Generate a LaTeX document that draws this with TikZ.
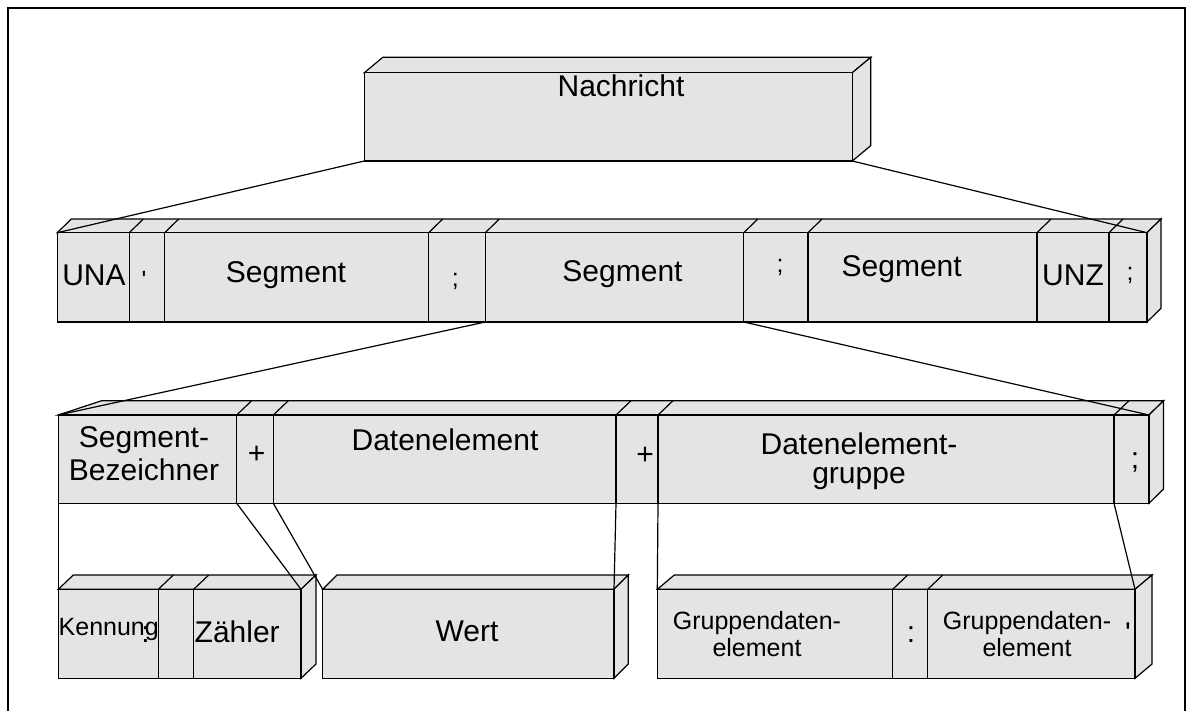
\documentclass[tikz,border=0pt]{standalone}
\usepackage{fontspec}
\setmainfont{Liberation Sans}
\usetikzlibrary{fit}
\definecolor{boxfill}{RGB}{228,228,228}
\tikzset{
  cell/.style={draw=black, fill=boxfill, inner sep=0pt, outer sep=0pt, line width=0.6pt},
  face/.style={draw=black, fill=boxfill, line width=0.6pt},
  edge/.style={draw=black, line width=0.6pt},
  conn/.style={draw=black, line width=0.6pt},
  lbl/.style={inner sep=0pt, anchor=base, font=\fontsize{15}{16.5}\selectfont},
  lblsmall/.style={inner sep=0pt, anchor=base, font=\fontsize{12.5}{13.5}\selectfont},
}
% top and right faces of a block: x1,y1 (front top-left), x2,y2 (front bottom-right), depth dx,dy
\newcommand\solidfaces[6]{%
  \filldraw[face] (#1,#2) -- (#1+#5,#2-#6) -- (#3+#5,#2-#6) -- (#3,#2) -- cycle;
  \filldraw[face] (#3,#2) -- (#3+#5,#2-#6) -- (#3+#5,#4-#6) -- (#3,#4) -- cycle;}
\begin{document}
\begin{tikzpicture}[x=0.5pt,y=-0.5pt]
\useasboundingbox (0,0) rectangle (1192,711);
\draw[edge] (8,711) -- (8,8) -- (1185,8) -- (1185,711);

% ---- Nachricht
\solidfaces{364.3}{72.7}{852.3}{161}{18.5}{15.4}
\node[cell, fit={(364.3,72.7) (852.3,161)}] (msg) {};
\node[lbl] (tmsg) at (621,96.7) {Nachricht};

% ---- message level
\solidfaces{57.3}{232.7}{1147}{322}{14}{13.7}
\foreach \x in {129.3,164.7,428.7,485.3,743.8,808,1037,1109}
  \draw[edge] (\x,232.7) -- ++(14,-13.7);
\node[cell, fit={(57.3,232.7) (129.3,322)}] (una) {};
\node[cell, fit={(129.3,232.7) (164.7,322)}] (apo) {};
\node[cell, fit={(164.7,232.7) (428.7,322)}] (segA) {};
\node[cell, fit={(428.7,232.7) (485.3,322)}] (semA) {};
\node[cell, fit={(485.3,232.7) (743.8,322)}] (segB) {};
\node[cell, fit={(743.8,232.7) (808,322)}] (semB) {};
\node[cell, fit={(808,232.7) (1037,322)}] (segC) {};
\node[cell, fit={(1037,232.7) (1109,322)}] (unz) {};
\node[cell, fit={(1109,232.7) (1147,322)}] (semC) {};
\node[lbl] (tuna) at (94,285) {UNA};
\node[lblsmall] (tapo) at (144,288) {\textquotesingle};
\node[lbl] (tsegA) at (286,282.7) {Segment};
\node[lblsmall] (tsemA) at (455.3,286.7) {;};
\node[lbl] (tsegB) at (622.5,281.7) {Segment};
\node[lblsmall] (tsemB) at (780,272.7) {;};
\node[lbl] (tsegC) at (901.7,276) {Segment};
\node[lbl] (tunz) at (1073,285) {UNZ};
\node[lblsmall] (tsemC) at (1130,280.7) {;};

% ---- segment level
\filldraw[face] (58.3,415) -- (101.7,400.7) -- (1163.5,400.7) -- (1149,415) -- cycle;
\filldraw[face] (1149,415) -- (1163.5,400.7) -- (1163.5,489) -- (1149,503.3) -- cycle;
\foreach \x in {236.7,273.3,616,658,1114}
  \draw[edge] (\x,415) -- ++(15,-14.3);
\node[cell, fit={(58.3,415) (236.7,503.3)}] (sbez) {};
\node[cell, fit={(236.7,415) (273.3,503.3)}] (plA) {};
\node[cell, fit={(273.3,415) (616,503.3)}] (del) {};
\node[cell, fit={(616,415) (658,503.3)}] (plB) {};
\node[cell, fit={(658,415) (1114,503.3)}] (deg) {};
\node[cell, fit={(1114,415) (1149,503.3)}] (semD) {};
\node[lbl, anchor=north, align=center, font=\fontsize{15}{16.65}\selectfont] (tsbez) at (144,426.3) {Segment-\\Bezeichner};
\node[lbl] (tplA) at (256.7,463) {+};
\node[lbl] (tdel) at (445,450.7) {Datenelement};
\node[lbl] (tplB) at (645,464) {+};
\node[lbl, anchor=north, align=center, font=\fontsize{15}{14.5}\selectfont] (tdeg) at (859,432.3) {Datenelement-\\gruppe};
\node[lbl] (tsemD) at (1135,468) {;};

% ---- element level
\solidfaces{58.3}{589.3}{301}{678.3}{15}{14.3}
\foreach \x in {158.3,193.7}
  \draw[edge] (\x,589.3) -- ++(15,-14.3);
\node[cell, fit={(58.3,589.3) (158.3,678.3)}] (kenn) {};
\node[cell, fit={(158.3,589.3) (193.7,678.3)}] (colA) {};
\node[cell, fit={(193.7,589.3) (301,678.3)}] (zahl) {};
\node[lblsmall, anchor=base west] (tkenn) at (58.3,635) {Kennung};
\node[lbl] (tcolA) at (145.5,642) {:};
\node[lbl, anchor=base west] (tzahl) at (194.3,642.7) {Zähler};

\solidfaces{322.7}{589.3}{614}{678.3}{14.3}{14.3}
\node[cell, fit={(322.7,589.3) (614,678.3)}] (wert) {};
\node[lbl] (twert) at (467,641.7) {Wert};

\solidfaces{657.3}{589.3}{1135}{678.3}{17}{14.3}
\foreach \x in {892.7,927.7}
  \draw[edge] (\x,589.3) -- ++(15,-14.3);
\node[cell, fit={(657.3,589.3) (892.7,678.3)}] (gdA) {};
\node[cell, fit={(892.7,589.3) (927.7,678.3)}] (colB) {};
\node[cell, fit={(927.7,589.3) (1135,678.3)}] (gdB) {};
\node[lblsmall, anchor=north, align=center, font=\fontsize{12.5}{13.5}\selectfont] (tgdA) at (757,611) {Gruppendaten-\\element};
\node[lbl] (tcolB) at (911,642.5) {:};
\node[lblsmall, anchor=north, align=center, font=\fontsize{12.5}{13.5}\selectfont] (tgdB) at (1027,611) {Gruppendaten-\\element};
\node[lbl] (tapoB) at (1128,643) {\textquotesingle};

% ---- connectors between levels
\draw[conn] (msg.south west) -- (una.north west);
\draw[conn] (msg.south east) -- (semC.north east);
\draw[conn] (segB.south west) -- (sbez.north west);
\draw[conn] (segB.south east) -- (semD.north east);
\draw[conn] (sbez.south west) -- (kenn.north west);
\draw[conn] (sbez.south east) -- (zahl.north east);
\draw[conn] (plA.south east) -- (wert.north west);
\draw[conn] (del.south east) -- (wert.north east);
\draw[conn] (plB.south east) -- (gdA.north west);
\draw[conn] (deg.south east) -- (gdB.north east);
\end{tikzpicture}
\end{document}
